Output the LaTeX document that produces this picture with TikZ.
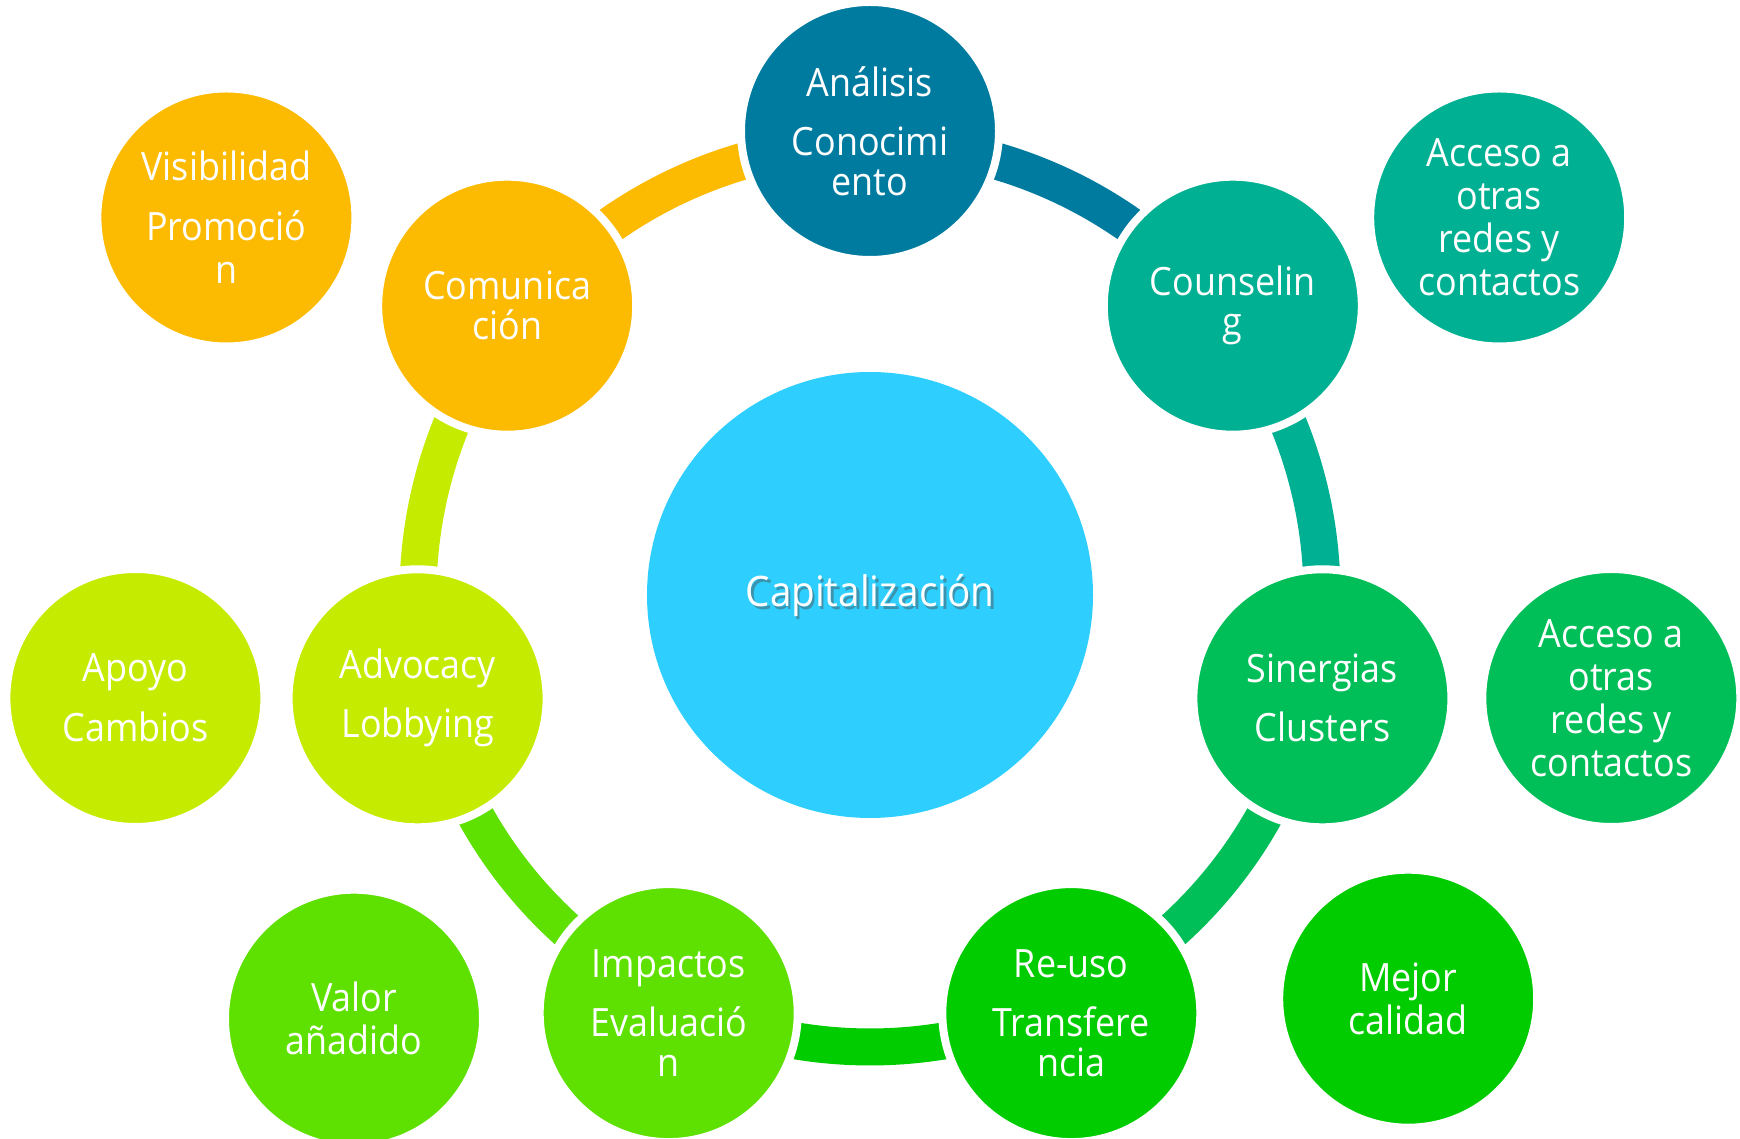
\documentclass[tikz,border=0pt]{standalone}
\usepackage{fontspec}
\setmainfont[FakeStretch=0.92]{Open Sans}
\usetikzlibrary{backgrounds}
\definecolor{cAn}{RGB}{0,123,160}
\definecolor{cCo}{RGB}{0,176,146}
\definecolor{cSi}{RGB}{0,191,89}
\definecolor{cRe}{RGB}{0,204,0}
\definecolor{cIm}{RGB}{94,224,0}
\definecolor{cAd}{RGB}{197,236,0}
\definecolor{cCm}{RGB}{252,186,0}
\definecolor{cCe}{RGB}{46,207,255}
\newcommand\bubtxt{\fontsize{39}{40}\selectfont}
\newcommand\outtxt{\fontsize{39}{43}\selectfont}
\newcommand\captxt{\fontsize{42}{44}\selectfont}
\begin{document}
\begin{tikzpicture}[x=1pt,y=1pt,
  bub/.style={circle, fill=#1, draw=white, line width=8pt, minimum size=258pt, inner sep=0pt, text=white, align=center, font=\bubtxt},
  outbub/.style={bub=#1, font=\outtxt},
  ringarc/.style={draw=#1, line width=37pt}]
\useasboundingbox (0,0) rectangle (1740,1138);

% centre
\node[circle, fill=cCe, minimum size=446pt, inner sep=0pt] (cap) at (870,543) {};
\node[text=black!70, opacity=0.45, font=\captxt] (capsh) at (872.5,540) {Capitalización};
\node[text=white, font=\captxt] (captx) at (870,543) {Capitalización};

% cycle nodes
\node[bub=cAn] (an) at (870,1007) {Análisis\\[19pt]Conocimi\\ento};
\node[bub=cCo] (co) at (1232.8,832.3) {Counselin\\g};
\node[bub=cSi] (si) at (1322.4,439.7) {Sinergias\\[19pt]Clusters};
\node[bub=cRe] (re) at (1071.3,124.9) {Re-uso\\[19pt]Transfere\\ncia};
\node[bub=cIm] (im) at (668.7,124.9) {Impactos\\[19pt]Evaluació\\n};
\node[bub=cAd] (ad) at (417.6,439.7) {Advocacy\\[19pt]Lobbying};
\node[bub=cCm] (cm) at (507.2,832.3) {Comunica\\ción};

% outer nodes
\node[outbub=cCm] (vis) at (226.4,920.5) {Visibilidad\\[17pt]Promoció\\n};
\node[outbub=cCo] (ac1) at (1499.2,920.5) {Acceso a\\otras\\redes y\\contactos};
\node[outbub=cSi] (ac2) at (1611.3,440) {Acceso a\\otras\\redes y\\contactos};
\node[outbub=cRe] (me) at (1408.2,139.3) {Mejor\\calidad};
\node[outbub=cIm] (va) at (354,119.3) {Valor\\añadido};
\node[outbub=cAd] (apo) at (135.4,440) {Apoyo\\[17pt]Cambios};

% ring arcs (an -> co -> si -> re -> im -> ad -> cm -> an)
\begin{scope}[on background layer]
\fill[white] (0,0) rectangle (1740,1138);
\draw[ringarc=cAn] (cap.center) ++(90:452pt) arc[start angle=90, end angle=38.57, radius=452pt];
\draw[ringarc=cCo] (cap.center) ++(38.57:452pt) arc[start angle=38.57, end angle=-12.86, radius=452pt];
\draw[ringarc=cSi] (cap.center) ++(-12.86:452pt) arc[start angle=-12.86, end angle=-64.29, radius=452pt];
\draw[ringarc=cRe] (cap.center) ++(-64.29:452pt) arc[start angle=-64.29, end angle=-115.71, radius=452pt];
\draw[ringarc=cIm] (cap.center) ++(-115.71:452pt) arc[start angle=-115.71, end angle=-167.14, radius=452pt];
\draw[ringarc=cAd] (cap.center) ++(-167.14:452pt) arc[start angle=-167.14, end angle=-218.57, radius=452pt];
\draw[ringarc=cCm] (cap.center) ++(-218.57:452pt) arc[start angle=-218.57, end angle=-270, radius=452pt];
\end{scope}
\end{tikzpicture}
\end{document}
